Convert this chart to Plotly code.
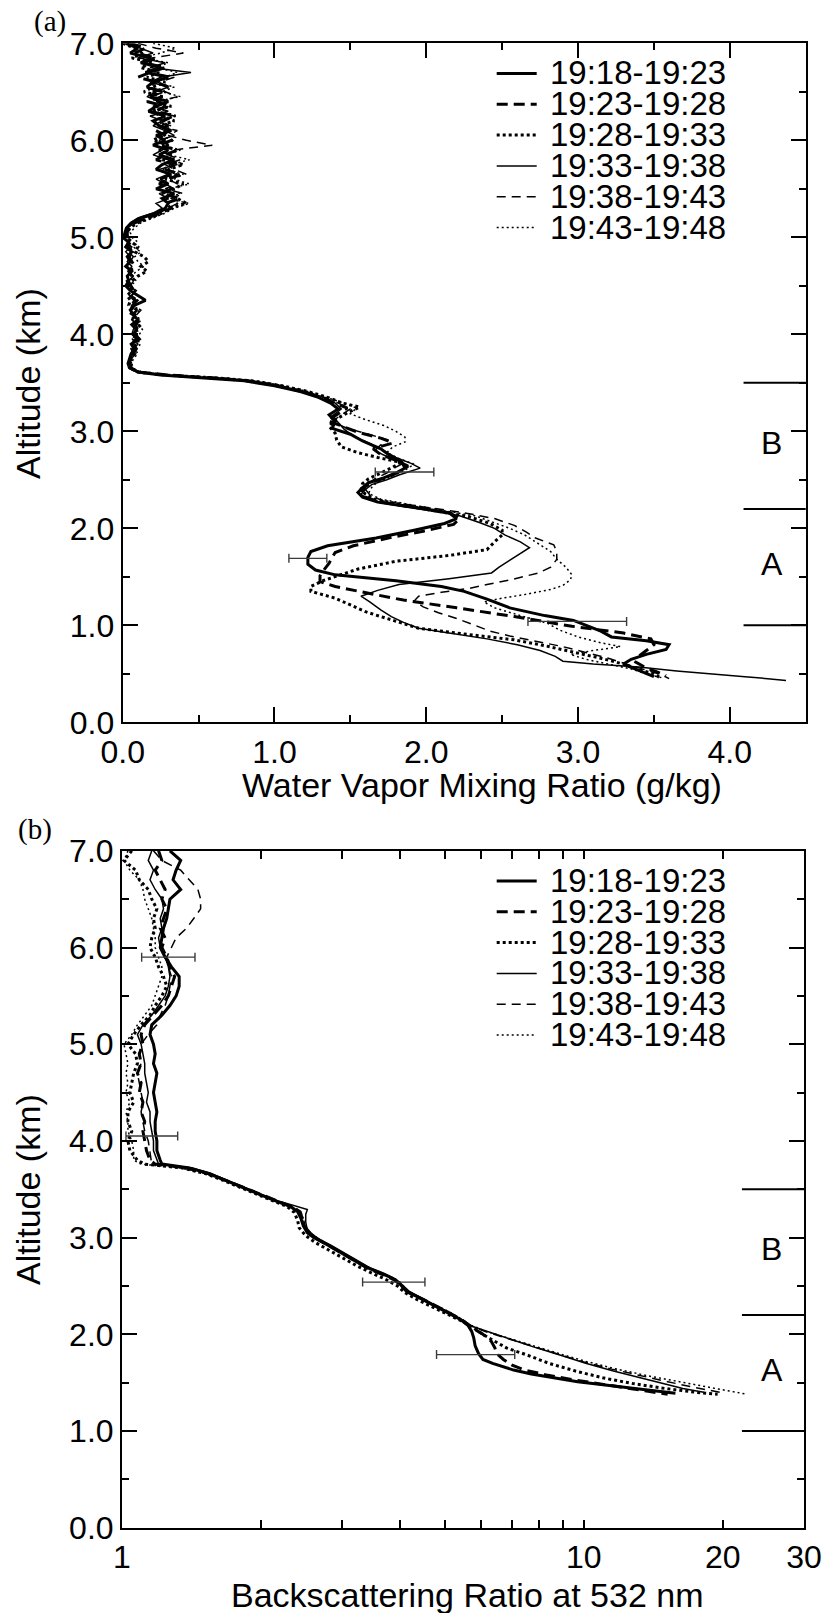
import plotly.graph_objects as go

FIG_W, FIG_H = 823, 1615
FONT = "Liberation Sans, Arial, Helvetica, sans-serif"
SERIF = "Liberation Serif, Times New Roman, serif"

# ---------------------------------------------------------------- series
PERIODS = ["19:18-19:23", "19:23-19:28", "19:28-19:33",
           "19:33-19:38", "19:38-19:43", "19:43-19:48"]
LINE_WIDTHS = [3.0, 3.0, 3.0, 1.5, 1.5, 1.5]
LINE_DASHES = ["solid", "11px,6px", "3px,3px", "solid", "9px,6px", "2px,3px"]

# (a) water vapour mixing ratio (g/kg) -- free troposphere, 0.05 km grid
WV_UPPER_ALT = [7.00, 6.95, 6.90, 6.85, 6.80, 6.75, 6.70, 6.65, 6.60, 6.55,
                6.50, 6.45, 6.40, 6.35, 6.30, 6.25, 6.20, 6.15, 6.10, 6.05,
                6.00, 5.95, 5.90, 5.85, 5.80, 5.75, 5.70, 5.65, 5.60, 5.55,
                5.50, 5.45, 5.40, 5.35, 5.30, 5.25, 5.20, 5.15, 5.10, 5.05,
                5.00, 4.95, 4.90, 4.85, 4.80, 4.75, 4.70, 4.65, 4.60, 4.55,
                4.50, 4.45, 4.40, 4.35, 4.30, 4.25, 4.20, 4.15, 4.10, 4.05,
                4.00, 3.95, 3.90, 3.85, 3.80, 3.75, 3.70]

WV_UP_1 = [0.02, 0.10, 0.05, 0.18, 0.12, 0.25, 0.15, 0.30, 0.20, 0.16,
           0.26, 0.18, 0.30, 0.22, 0.17, 0.28, 0.20, 0.24, 0.32, 0.22,
           0.28, 0.20, 0.30, 0.24, 0.34, 0.26, 0.22, 0.32, 0.25, 0.30,
           0.22, 0.34, 0.26, 0.30, 0.28, 0.22, 0.12, 0.06, 0.03, 0.02,
           0.00, 0.04, 0.02, 0.06, 0.03, 0.05, 0.02, 0.06, 0.03, 0.04,
           0.02, 0.05, 0.10, 0.15, 0.08, 0.05, 0.07, 0.10, 0.06, 0.09,
           0.07, 0.10, 0.06, 0.08, 0.06, 0.05, 0.04]
WV_UP_2 = [0.05, 0.15, 0.08, 0.22, 0.14, 0.28, 0.18, 0.10, 0.22, 0.30,
           0.20, 0.26, 0.16, 0.28, 0.22, 0.34, 0.25, 0.30, 0.22, 0.28,
           0.32, 0.24, 0.36, 0.28, 0.22, 0.34, 0.28, 0.38, 0.30, 0.24,
           0.32, 0.26, 0.38, 0.28, 0.32, 0.25, 0.16, 0.08, 0.04, 0.03,
           0.02, 0.05, 0.03, 0.07, 0.04, 0.06, 0.08, 0.04, 0.06, 0.03,
           0.05, 0.07, 0.05, 0.08, 0.06, 0.09, 0.07, 0.11, 0.08, 0.10,
           0.08, 0.11, 0.07, 0.09, 0.07, 0.06, 0.05]
WV_UP_3 = [0.00, 0.08, 0.14, 0.06, 0.20, 0.12, 0.24, 0.16, 0.28, 0.20,
           0.14, 0.26, 0.22, 0.32, 0.18, 0.26, 0.34, 0.24, 0.30, 0.26,
           0.20, 0.30, 0.24, 0.32, 0.26, 0.40, 0.30, 0.36, 0.28, 0.40,
           0.34, 0.26, 0.36, 0.42, 0.30, 0.26, 0.18, 0.10, 0.05, 0.03,
           0.03, 0.06, 0.10, 0.08, 0.14, 0.17, 0.12, 0.16, 0.10, 0.06,
           0.04, 0.06, 0.03, 0.05, 0.04, 0.07, 0.05, 0.08, 0.12, 0.09,
           0.10, 0.07, 0.09, 0.06, 0.08, 0.05, 0.05]
WV_UP_4 = [0.03, 0.12, 0.20, 0.10, 0.28, 0.18, 0.45, 0.25, 0.18, 0.30,
           0.22, 0.16, 0.24, 0.20, 0.30, 0.18, 0.26, 0.20, 0.28, 0.34,
           0.24, 0.30, 0.26, 0.20, 0.30, 0.36, 0.24, 0.30, 0.22, 0.28,
           0.34, 0.24, 0.30, 0.22, 0.26, 0.20, 0.10, 0.05, 0.02, 0.01,
           0.01, 0.03, 0.05, 0.02, 0.05, 0.03, 0.06, 0.04, 0.07, 0.04,
           0.06, 0.08, 0.06, 0.09, 0.06, 0.05, 0.08, 0.06, 0.09, 0.07,
           0.06, 0.09, 0.05, 0.07, 0.05, 0.04, 0.03]
WV_UP_5 = [0.10, 0.22, 0.40, 0.20, 0.12, 0.26, 0.18, 0.34, 0.24, 0.16,
           0.28, 0.36, 0.24, 0.30, 0.20, 0.34, 0.28, 0.22, 0.36, 0.30,
           0.42, 0.59, 0.34, 0.30, 0.38, 0.28, 0.34, 0.42, 0.30, 0.36,
           0.28, 0.40, 0.32, 0.36, 0.30, 0.24, 0.14, 0.07, 0.04, 0.02,
           0.04, 0.02, 0.06, 0.04, 0.07, 0.05, 0.03, 0.06, 0.04, 0.07,
           0.05, 0.09, 0.06, 0.10, 0.07, 0.12, 0.09, 0.06, 0.10, 0.08,
           0.09, 0.06, 0.10, 0.07, 0.08, 0.06, 0.05]
WV_UP_6 = [0.20, 0.35, 0.25, 0.12, 0.30, 0.22, 0.36, 0.28, 0.20, 0.34,
           0.26, 0.38, 0.22, 0.30, 0.26, 0.36, 0.20, 0.32, 0.28, 0.24,
           0.34, 0.26, 0.38, 0.30, 0.44, 0.32, 0.26, 0.40, 0.34, 0.44,
           0.30, 0.38, 0.28, 0.44, 0.34, 0.28, 0.20, 0.12, 0.08, 0.05,
           0.06, 0.10, 0.07, 0.12, 0.08, 0.10, 0.14, 0.09, 0.06, 0.09,
           0.05, 0.08, 0.06, 0.10, 0.07, 0.11, 0.08, 0.12, 0.10, 0.13,
           0.11, 0.09, 0.12, 0.08, 0.10, 0.07, 0.06]

# (a) boundary layer profiles below 3.7 km
WV_LOW_ALT_1 = [3.65, 3.61, 3.58, 3.55, 3.52, 3.47, 3.41, 3.35, 3.29, 3.23,
                3.17, 3.10, 3.03, 2.97, 2.90, 2.82, 2.75, 2.68, 2.62, 2.57,
                2.52, 2.47, 2.42, 2.37, 2.32, 2.27, 2.22, 2.16, 2.10, 2.05,
                1.98, 1.90, 1.82, 1.76, 1.70, 1.63, 1.57, 1.52, 1.46, 1.40,
                1.35, 1.27, 1.18, 1.10, 1.05, 1.00, 0.94, 0.88, 0.84, 0.80,
                0.75, 0.70, 0.65, 0.60, 0.55, 0.50, 0.47]
WV_LOW_1 = [0.06, 0.10, 0.25, 0.55, 0.80, 1.00, 1.17, 1.29, 1.37, 1.42,
            1.36, 1.40, 1.38, 1.50, 1.58, 1.70, 1.76, 1.84, 1.86, 1.80,
            1.72, 1.62, 1.58, 1.55, 1.58, 1.68, 1.90, 2.15, 2.20, 2.12,
            1.92, 1.67, 1.35, 1.24, 1.22, 1.22, 1.27, 1.40, 1.80, 2.10,
            2.25, 2.40, 2.55, 2.78, 2.97, 3.05, 3.15, 3.22, 3.45, 3.60,
            3.58, 3.45, 3.35, 3.30, 3.38, 3.45, 3.50]

WV_LOW_ALT_2 = [3.65, 3.61, 3.58, 3.55, 3.52, 3.47, 3.41, 3.35, 3.29, 3.24,
                3.18, 3.11, 3.05, 2.99, 2.93, 2.88, 2.82, 2.76, 2.70, 2.64,
                2.58, 2.53, 2.48, 2.43, 2.37, 2.32, 2.27, 2.22, 2.16, 2.10,
                2.04, 1.97, 1.90, 1.82, 1.75, 1.70, 1.64, 1.58, 1.51, 1.45,
                1.40, 1.33, 1.26, 1.18, 1.09, 0.99, 0.92, 0.86, 0.80, 0.74,
                0.68, 0.62, 0.56, 0.52, 0.48]
WV_LOW_2 = [0.05, 0.12, 0.30, 0.60, 0.82, 1.02, 1.18, 1.30, 1.40, 1.48,
            1.42, 1.35, 1.45, 1.55, 1.70, 1.78, 1.65, 1.70, 1.80, 1.88,
            1.82, 1.75, 1.65, 1.60, 1.57, 1.60, 1.70, 1.92, 2.15, 2.22,
            2.18, 1.98, 1.75, 1.52, 1.40, 1.38, 1.36, 1.33, 1.30, 1.30,
            1.40, 1.62, 1.85, 2.20, 2.58, 2.96, 3.30, 3.48, 3.50, 3.45,
            3.40, 3.38, 3.45, 3.52, 3.58]

WV_LOW_ALT_3 = [3.65, 3.61, 3.58, 3.55, 3.52, 3.47, 3.41, 3.35, 3.29, 3.25,
                3.19, 3.12, 3.05, 2.98, 2.91, 2.84, 2.78, 2.73, 2.68, 2.63,
                2.57, 2.51, 2.46, 2.40, 2.35, 2.30, 2.24, 2.18, 2.12, 2.05,
                1.98, 1.93, 1.86, 1.78, 1.72, 1.66, 1.58, 1.52, 1.46, 1.40,
                1.35, 1.28, 1.20, 1.14, 1.08, 1.02, 0.97, 0.91, 0.85, 0.79,
                0.73, 0.66, 0.60, 0.55, 0.50, 0.45]
WV_LOW_3 = [0.05, 0.10, 0.28, 0.62, 0.85, 1.05, 1.22, 1.35, 1.45, 1.56,
            1.48, 1.40, 1.36, 1.40, 1.41, 1.44, 1.55, 1.68, 1.83, 1.78,
            1.70, 1.62, 1.58, 1.57, 1.60, 1.66, 1.85, 2.05, 2.28, 2.42,
            2.50, 2.50, 2.45, 2.40, 2.15, 1.80, 1.55, 1.44, 1.32, 1.24,
            1.24, 1.40, 1.52, 1.60, 1.72, 1.85, 1.95, 2.25, 2.58, 2.78,
            2.96, 3.15, 3.30, 3.38, 3.50, 3.55]

WV_LOW_ALT_4 = [3.65, 3.61, 3.58, 3.55, 3.52, 3.47, 3.41, 3.35, 3.29, 3.23,
                3.16, 3.09, 3.02, 2.95, 2.88, 2.80, 2.73, 2.67, 2.62, 2.58,
                2.55, 2.50, 2.45, 2.40, 2.35, 2.30, 2.25, 2.19, 2.13, 2.06,
                2.00, 1.93, 1.86, 1.80, 1.70, 1.60, 1.54, 1.48, 1.42, 1.36,
                1.30, 1.24, 1.16, 1.09, 1.03, 0.97, 0.92, 0.86, 0.80, 0.74,
                0.68, 0.63, 0.60, 0.57, 0.53, 0.50, 0.47, 0.45, 0.43]
WV_LOW_4 = [0.04, 0.09, 0.26, 0.58, 0.82, 1.02, 1.20, 1.33, 1.40, 1.44,
            1.38, 1.42, 1.46, 1.52, 1.62, 1.72, 1.80, 1.90, 1.96, 1.88,
            1.82, 1.74, 1.64, 1.60, 1.57, 1.62, 1.75, 2.00, 2.22, 2.35,
            2.45, 2.52, 2.62, 2.68, 2.58, 2.48, 2.43, 2.15, 1.82, 1.68,
            1.57, 1.63, 1.70, 1.77, 1.85, 1.95, 2.15, 2.40, 2.60, 2.75,
            2.85, 2.90, 3.10, 3.40, 3.65, 3.85, 4.10, 4.25, 4.37]

WV_LOW_ALT_5 = [3.65, 3.61, 3.58, 3.55, 3.52, 3.47, 3.41, 3.35, 3.29, 3.23,
                3.17, 3.10, 3.03, 2.97, 2.91, 2.86, 2.80, 2.74, 2.68, 2.63,
                2.57, 2.51, 2.46, 2.40, 2.34, 2.28, 2.22, 2.16, 2.10, 2.03,
                1.96, 1.90, 1.83, 1.76, 1.68, 1.60, 1.54, 1.47, 1.42, 1.38,
                1.34, 1.30, 1.25, 1.19, 1.13, 1.07, 1.00, 0.94, 0.89, 0.84,
                0.78, 0.72, 0.66, 0.60, 0.54, 0.49, 0.45]
WV_LOW_5 = [0.06, 0.11, 0.30, 0.64, 0.86, 1.04, 1.20, 1.32, 1.42, 1.50,
            1.44, 1.38, 1.48, 1.62, 1.75, 1.70, 1.66, 1.74, 1.86, 1.80,
            1.74, 1.66, 1.62, 1.60, 1.63, 1.72, 1.98, 2.25, 2.45, 2.58,
            2.66, 2.72, 2.84, 2.86, 2.86, 2.82, 2.74, 2.56, 2.40, 2.28,
            2.10, 1.95, 1.92, 1.98, 2.08, 2.20, 2.32, 2.42, 2.55, 2.70,
            2.90, 3.05, 3.20, 3.32, 3.45, 3.55, 3.60]

WV_LOW_ALT_6 = [3.65, 3.61, 3.58, 3.55, 3.52, 3.47, 3.41, 3.35, 3.29, 3.24,
                3.18, 3.12, 3.06, 3.00, 2.94, 2.89, 2.84, 2.78, 2.72, 2.66,
                2.60, 2.54, 2.48, 2.42, 2.36, 2.30, 2.24, 2.18, 2.13, 2.06,
                2.00, 1.93, 1.85, 1.76, 1.68, 1.60, 1.52, 1.47, 1.41, 1.37,
                1.32, 1.28, 1.24, 1.18, 1.10, 1.02, 0.95, 0.88, 0.82, 0.78,
                0.74, 0.70, 0.65, 0.60, 0.55, 0.50, 0.46]
WV_LOW_6 = [0.07, 0.12, 0.32, 0.66, 0.88, 1.06, 1.22, 1.34, 1.46, 1.54,
            1.50, 1.60, 1.72, 1.80, 1.86, 1.86, 1.78, 1.74, 1.82, 1.92,
            1.86, 1.78, 1.68, 1.64, 1.62, 1.70, 1.90, 2.12, 2.32, 2.45,
            2.55, 2.65, 2.73, 2.82, 2.86, 2.92, 2.96, 2.95, 2.90, 2.82,
            2.66, 2.50, 2.38, 2.45, 2.62, 2.80, 2.88, 3.00, 3.15, 3.28,
            3.10, 2.95, 3.05, 3.20, 3.35, 3.45, 3.55]

WV_ERR_ALT = [2.58, 1.69, 1.04]
WV_ERR_MEAN = [1.857, 1.22, 2.995]
WV_ERR_HALF = [0.193, 0.125, 0.325]

# (b) backscattering ratio at 532 nm -- free troposphere, 0.1 km grid
BSR_UPPER_ALT = [7.0, 6.9, 6.8, 6.7, 6.6, 6.5, 6.4, 6.3, 6.2, 6.1,
                 6.0, 5.9, 5.8, 5.7, 5.6, 5.5, 5.4, 5.3, 5.2, 5.1,
                 5.0, 4.9, 4.8, 4.7, 4.6, 4.5, 4.4, 4.3, 4.2, 4.1,
                 4.0, 3.9, 3.8]
BSR_UP_1 = [1.27, 1.34, 1.31, 1.29, 1.34, 1.27, 1.26, 1.25, 1.23, 1.22,
            1.21, 1.24, 1.28, 1.33, 1.33, 1.31, 1.27, 1.22, 1.16, 1.15,
            1.17, 1.18, 1.17, 1.19, 1.18, 1.17, 1.18, 1.19, 1.18, 1.18,
            1.19, 1.19, 1.21]
BSR_UP_2 = [1.20, 1.22, 1.18, 1.21, 1.24, 1.22, 1.25, 1.23, 1.21, 1.24,
            1.22, 1.25, 1.27, 1.30, 1.28, 1.26, 1.22, 1.17, 1.12, 1.10,
            1.11, 1.09, 1.10, 1.08, 1.10, 1.09, 1.11, 1.10, 1.12, 1.11,
            1.12, 1.13, 1.15]
BSR_UP_3 = [1.05, 1.01, 1.07, 1.09, 1.14, 1.16, 1.19, 1.17, 1.18, 1.16,
            1.15, 1.18, 1.20, 1.23, 1.25, 1.22, 1.18, 1.15, 1.10, 1.06,
            1.03, 1.07, 1.08, 1.06, 1.05, 1.04, 1.06, 1.03, 1.03, 1.05,
            1.03, 1.04, 1.08]
BSR_UP_4 = [1.16, 1.14, 1.17, 1.15, 1.18, 1.22, 1.23, 1.21, 1.22, 1.20,
            1.21, 1.24, 1.26, 1.27, 1.26, 1.24, 1.20, 1.16, 1.11, 1.08,
            1.10, 1.11, 1.12, 1.12, 1.13, 1.14, 1.13, 1.15, 1.15, 1.16,
            1.17, 1.17, 1.19]
BSR_UP_5 = [1.17, 1.22, 1.34, 1.40, 1.46, 1.48, 1.48, 1.43, 1.38, 1.31,
            1.28, 1.25, 1.26, 1.28, 1.27, 1.26, 1.24, 1.21, 1.19, 1.14,
            1.10, 1.09, 1.10, 1.08, 1.09, 1.10, 1.11, 1.10, 1.11, 1.12,
            1.14, 1.15, 1.16]
BSR_UP_6 = [1.03, 1.01, 1.04, 1.09, 1.11, 1.12, 1.14, 1.16, 1.17, 1.18,
            1.18, 1.20, 1.22, 1.22, 1.20, 1.18, 1.16, 1.12, 1.08, 1.05,
            1.01, 1.02, 1.03, 1.02, 1.03, 1.02, 1.04, 1.02, 1.03, 1.03,
            1.05, 1.06, 1.06]

# (b) aerosol layer profiles below 3.8 km
BSR_LOW_ALT_1 = [3.76, 3.72, 3.66, 3.60, 3.52, 3.45, 3.38, 3.32, 3.27, 3.20,
                 3.12, 3.05, 3.00, 2.92, 2.84, 2.76, 2.70, 2.64, 2.58, 2.52,
                 2.45, 2.38, 2.30, 2.22, 2.15, 2.09, 2.03, 1.96, 1.88, 1.80,
                 1.74, 1.70, 1.66, 1.63, 1.59, 1.55, 1.51, 1.48, 1.45, 1.42,
                 1.39]
BSR_LOW_1 = [1.22, 1.40, 1.55, 1.66, 1.82, 1.97, 2.15, 2.32, 2.40, 2.44,
             2.47, 2.52, 2.60, 2.80, 3.00, 3.20, 3.36, 3.60, 3.85, 4.00,
             4.12, 4.40, 4.72, 5.10, 5.42, 5.62, 5.72, 5.78, 5.82, 5.92,
             6.05, 6.35, 6.70, 7.05, 7.70, 8.60, 9.70, 10.9, 12.3, 13.9,
             15.8]

BSR_LOW_ALT_2 = [3.76, 3.72, 3.66, 3.60, 3.52, 3.45, 3.38, 3.32, 3.27, 3.20,
                 3.12, 3.05, 2.98, 2.90, 2.82, 2.74, 2.68, 2.62, 2.56, 2.50,
                 2.43, 2.36, 2.28, 2.20, 2.13, 2.07, 2.00, 1.93, 1.86, 1.80,
                 1.74, 1.68, 1.63, 1.58, 1.53, 1.48, 1.44, 1.41, 1.38]
BSR_LOW_2 = [1.18, 1.38, 1.54, 1.66, 1.83, 1.98, 2.16, 2.33, 2.42, 2.46,
             2.48, 2.55, 2.66, 2.84, 3.05, 3.26, 3.42, 3.66, 3.90, 4.04,
             4.18, 4.50, 4.85, 5.22, 5.52, 5.72, 6.05, 6.30, 6.42, 6.48,
             6.70, 7.00, 7.45, 8.30, 9.50, 11.0, 12.4, 13.8, 15.2]

BSR_LOW_ALT_3 = [3.76, 3.72, 3.66, 3.60, 3.52, 3.45, 3.38, 3.32, 3.26, 3.18,
                 3.10, 3.02, 2.95, 2.87, 2.79, 2.71, 2.64, 2.57, 2.50, 2.43,
                 2.36, 2.28, 2.20, 2.13, 2.07, 2.01, 1.94, 1.86, 1.78, 1.70,
                 1.62, 1.55, 1.49, 1.44, 1.40, 1.38]
BSR_LOW_3 = [1.12, 1.35, 1.52, 1.64, 1.80, 1.95, 2.12, 2.28, 2.36, 2.40,
             2.42, 2.50, 2.62, 2.80, 3.00, 3.22, 3.45, 3.72, 3.95, 4.10,
             4.35, 4.72, 5.12, 5.48, 5.75, 6.00, 6.35, 6.80, 7.60, 8.40,
             9.60, 11.0, 12.8, 15.0, 17.5, 19.5]

BSR_LOW_ALT_4 = [3.76, 3.72, 3.66, 3.60, 3.52, 3.45, 3.38, 3.33, 3.29, 3.24,
                 3.16, 3.08, 3.00, 2.92, 2.84, 2.76, 2.69, 2.63, 2.57, 2.51,
                 2.44, 2.37, 2.29, 2.21, 2.14, 2.08, 2.01, 1.94, 1.86, 1.78,
                 1.70, 1.62, 1.55, 1.49, 1.44, 1.40]
BSR_LOW_4 = [1.20, 1.42, 1.56, 1.68, 1.84, 2.00, 2.18, 2.38, 2.52, 2.50,
             2.50, 2.52, 2.64, 2.84, 3.04, 3.26, 3.44, 3.70, 3.92, 4.05,
             4.20, 4.48, 4.82, 5.20, 5.50, 5.75, 6.35, 7.05, 7.90, 8.95,
             10.1, 11.6, 13.2, 14.9, 16.4, 18.2]

BSR_LOW_ALT_5 = [3.76, 3.72, 3.66, 3.60, 3.52, 3.45, 3.38, 3.32, 3.27, 3.20,
                 3.12, 3.04, 2.97, 2.89, 2.81, 2.73, 2.66, 2.60, 2.54, 2.47,
                 2.40, 2.32, 2.24, 2.16, 2.10, 2.03, 1.96, 1.88, 1.80, 1.72,
                 1.64, 1.57, 1.51, 1.46, 1.42, 1.39]
BSR_LOW_5 = [1.16, 1.40, 1.55, 1.67, 1.83, 1.99, 2.17, 2.35, 2.44, 2.47,
             2.49, 2.56, 2.68, 2.88, 3.08, 3.30, 3.50, 3.76, 3.98, 4.10,
             4.30, 4.66, 5.06, 5.40, 5.62, 6.10, 6.80, 7.65, 8.70, 9.90,
             11.5, 13.3, 15.2, 17.0, 18.7, 20.2]

BSR_LOW_ALT_6 = [3.76, 3.72, 3.66, 3.60, 3.52, 3.45, 3.38, 3.32, 3.27, 3.20,
                 3.12, 3.04, 2.97, 2.89, 2.81, 2.73, 2.66, 2.60, 2.54, 2.47,
                 2.40, 2.32, 2.24, 2.16, 2.10, 2.03, 1.96, 1.88, 1.80, 1.72,
                 1.64, 1.57, 1.51, 1.46, 1.42, 1.38]
BSR_LOW_6 = [1.10, 1.34, 1.52, 1.65, 1.82, 1.98, 2.16, 2.33, 2.42, 2.46,
             2.48, 2.55, 2.68, 2.88, 3.08, 3.30, 3.52, 3.78, 4.00, 4.12,
             4.32, 4.68, 5.08, 5.42, 5.66, 6.15, 6.85, 7.75, 8.85, 10.1,
             11.8, 13.8, 16.0, 18.2, 20.3, 22.6]

BSR_ERR_ALT = [5.90, 4.05, 2.54, 1.79]
BSR_ERR_MEAN = [1.271, 1.17, 3.925, 5.945]
BSR_ERR_HALF = [0.168, 0.15, 0.605, 1.145]

# layers marked on the right-hand side (km)
LAYER_BOUNDS = [1.0, 2.2, 3.5]
LAYER_NAMES = ["A", "B"]

ALT_TICKS = [0, 1, 2, 3, 4, 5, 6, 7]
ALT_MINOR = [0.5, 1.5, 2.5, 3.5, 4.5, 5.5, 6.5]
WV_TICKS = [0, 1, 2, 3, 4]
WV_MINOR = [0.5, 1.5, 2.5, 3.5]
BSR_TICKS = [1, 10, 20, 30]
BSR_MINOR = [2, 3, 4, 5, 6, 7, 8, 9]

# ---------------------------------------------------------------- layout helpers
BOX_A = (122.7, 43.3, 805.7, 722.3)      # left, top, right, bottom in px
BOX_B = (122.0, 850.8, 804.0, 1527.7)


def fx(px):
    return px / FIG_W


def fy(px):
    return 1 - px / FIG_H


def alt_to_px(box, alt):
    """pixel row of an altitude (km) inside a 0-7 km panel"""
    return box[3] - (box[3] - box[1]) * alt / 7.0


def label(text, x, y, size=34, family=FONT, **kw):
    base = dict(text=text, x=fx(x), y=fy(y), xref="paper", yref="paper",
                xanchor="center", yanchor="middle", showarrow=False,
                font=dict(family=family, size=size, color="black"))
    base.update(kw)
    return base


fig = go.Figure()

wv_sets = [(WV_UP_1, WV_LOW_ALT_1, WV_LOW_1), (WV_UP_2, WV_LOW_ALT_2, WV_LOW_2),
           (WV_UP_3, WV_LOW_ALT_3, WV_LOW_3), (WV_UP_4, WV_LOW_ALT_4, WV_LOW_4),
           (WV_UP_5, WV_LOW_ALT_5, WV_LOW_5), (WV_UP_6, WV_LOW_ALT_6, WV_LOW_6)]
bsr_sets = [(BSR_UP_1, BSR_LOW_ALT_1, BSR_LOW_1), (BSR_UP_2, BSR_LOW_ALT_2, BSR_LOW_2),
            (BSR_UP_3, BSR_LOW_ALT_3, BSR_LOW_3), (BSR_UP_4, BSR_LOW_ALT_4, BSR_LOW_4),
            (BSR_UP_5, BSR_LOW_ALT_5, BSR_LOW_5), (BSR_UP_6, BSR_LOW_ALT_6, BSR_LOW_6)]

for i, (up, low_alt, low) in enumerate(wv_sets):
    fig.add_trace(go.Scatter(
        x=up + low, y=WV_UPPER_ALT + low_alt, mode="lines", name=PERIODS[i],
        line=dict(color="black", width=LINE_WIDTHS[i], dash=LINE_DASHES[i]),
        xaxis="x", yaxis="y", showlegend=False))

for i, (up, low_alt, low) in enumerate(bsr_sets):
    fig.add_trace(go.Scatter(
        x=up + low, y=BSR_UPPER_ALT + low_alt, mode="lines", name=PERIODS[i],
        line=dict(color="black", width=LINE_WIDTHS[i], dash=LINE_DASHES[i]),
        xaxis="x2", yaxis="y2", showlegend=False))

# error bars
err_style = dict(type="data", symmetric=True, color="#3a3a3a", thickness=1.4, width=4.5)
fig.add_trace(go.Scatter(
    x=WV_ERR_MEAN, y=WV_ERR_ALT, mode="markers",
    marker=dict(size=1, color="rgba(0,0,0,0)"),
    error_x=dict(array=WV_ERR_HALF, **err_style),
    xaxis="x", yaxis="y", showlegend=False))
fig.add_trace(go.Scatter(
    x=BSR_ERR_MEAN, y=BSR_ERR_ALT, mode="markers",
    marker=dict(size=1, color="rgba(0,0,0,0)"),
    error_x=dict(array=BSR_ERR_HALF, **err_style),
    xaxis="x2", yaxis="y2", showlegend=False))

tick_font = dict(family=FONT, size=32, color="black")
frame = dict(showline=True, linewidth=2, linecolor="black", mirror="ticks",
             ticks="inside", ticklen=15, tickwidth=1.5, tickcolor="black",
             showgrid=False, zeroline=False, tickfont=tick_font, automargin=False)
minor_alt = dict(tickvals=ALT_MINOR, ticks="inside", ticklen=7, tickwidth=1.5,
                 tickcolor="black", showgrid=False)

fig.update_layout(
    width=FIG_W, height=FIG_H,
    margin=dict(l=0, r=0, t=0, b=0, pad=0, autoexpand=False),
    paper_bgcolor="white", plot_bgcolor="white",
    showlegend=False,
    xaxis=dict(domain=[fx(BOX_A[0]), fx(BOX_A[2])], anchor="y", range=[0, 4.5],
               tickmode="array", tickvals=WV_TICKS,
               ticktext=[f"{v:.1f}" for v in WV_TICKS], ticklabelstandoff=0,
               minor=dict(tickvals=WV_MINOR, ticks="inside", ticklen=7,
                          tickwidth=1.5, tickcolor="black", showgrid=False),
               **frame),
    yaxis=dict(domain=[fy(BOX_A[3]), fy(BOX_A[1])], anchor="x", range=[0, 7],
               tickmode="array", tickvals=ALT_TICKS,
               ticktext=[f"{v:.1f}" for v in ALT_TICKS], ticklabelstandoff=0,
               minor=minor_alt, **frame),
    xaxis2=dict(domain=[fx(BOX_B[0]), fx(BOX_B[2])], anchor="y2", type="log",
                range=[0, 1.47712], tickmode="array", tickvals=BSR_TICKS,
                ticktext=[str(v) for v in BSR_TICKS], ticklabelstandoff=0,
                minor=dict(tickvals=BSR_MINOR, ticks="inside", ticklen=8,
                           tickwidth=1.5, tickcolor="black", showgrid=False),
                **{**frame, "ticklen": 8}),
    xaxis3=dict(overlaying="x2", anchor="y2", type="log", range=[0, 1.47712],
                tickmode="array", tickvals=[10], ticks="inside", ticklen=15,
                tickwidth=1.5, tickcolor="black", mirror="ticks",
                showticklabels=False, showline=False, showgrid=False,
                zeroline=False, automargin=False),
    yaxis2=dict(domain=[fy(BOX_B[3]), fy(BOX_B[1])], anchor="x2", range=[0, 7],
                tickmode="array", tickvals=ALT_TICKS,
                ticktext=[f"{v:.1f}" for v in ALT_TICKS], ticklabelstandoff=0,
                minor=minor_alt, **frame),
)

annotations = []
shapes = []

# panel tags
annotations.append(label("(a)", 50, 22, size=29, family=SERIF))
annotations.append(label("(b)", 35, 829, size=29, family=SERIF))

# axis titles
annotations += [
    label("Water Vapor Mixing Ratio (g/kg)", 482, 785),
    label("Backscattering Ratio at 532 nm", 467, 1595, height=36),
    label("Altitude (km)", 28, 384, textangle=-90),
    label("Altitude (km)", 28, 1190, textangle=-90),
]

# layer markers and labels on the right edge of both panels
for xa, ya, box in (("x", "y", BOX_A), ("x2", "y2", BOX_B)):
    for b in LAYER_BOUNDS:
        shapes.append(dict(type="line", xref=f"{xa} domain", yref=ya,
                           x0=0.909, x1=1.0, y0=b, y1=b,
                           line=dict(color="black", width=2)))
    for k, name in enumerate(LAYER_NAMES):
        mid = (LAYER_BOUNDS[k] + LAYER_BOUNDS[k + 1]) / 2 + 0.03
        annotations.append(label(name, 771.5, alt_to_px(box, mid), size=32))

# line-style keys for both panels
for top in (73.5, 881.0):
    for i, period in enumerate(PERIODS):
        yc = top + 30.8 * i
        shapes.append(dict(type="line", xref="paper", yref="paper",
                           x0=fx(496.7), x1=fx(536.7), y0=fy(yc), y1=fy(yc),
                           line=dict(color="black", width=LINE_WIDTHS[i],
                                     dash=LINE_DASHES[i])))
        annotations.append(label(period, 548.3, yc - 1, size=33, xanchor="left",
                                 height=30, valign="middle"))

fig.update_layout(annotations=annotations, shapes=shapes)
fig.write_html("out.html")
